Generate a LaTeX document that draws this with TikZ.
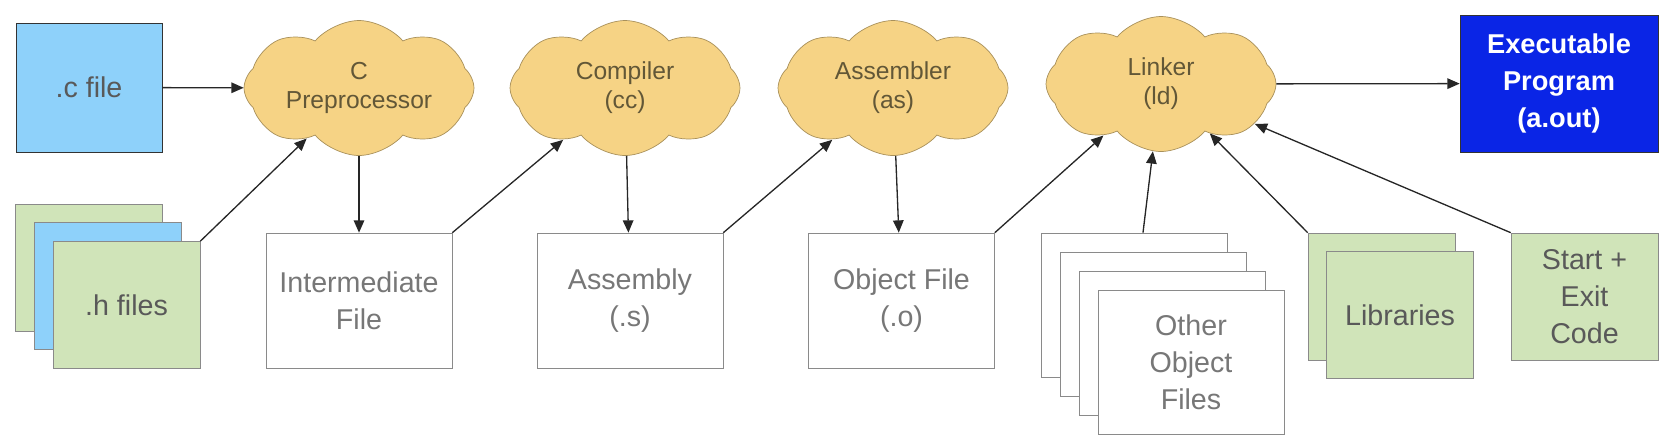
\documentclass[tikz,border=0pt]{standalone}
\usepackage{fontspec}
\setmainfont{Liberation Sans}
\usetikzlibrary{positioning, arrows.meta, shapes.symbols}
\definecolor{srcblue}{HTML}{8ED1FA}
\definecolor{hgreen}{HTML}{D0E4B9}
\definecolor{cloudtan}{HTML}{F6D385}
\definecolor{cloudedge}{HTML}{A8905A}
\definecolor{cloudtxt}{HTML}{625737}
\definecolor{exeblue}{HTML}{0A25E6}
\definecolor{boxgray}{HTML}{8A8A8A}
\definecolor{txtgray}{HTML}{777777}
\tikzset{
  tool/.style  = {cloud, cloud puffs=8, cloud puff arc=100, cloud ignores aspect,
                  draw=cloudedge, fill=cloudtan, text=cloudtxt, align=center,
                  minimum width=4.6cm, minimum height=2.7cm, inner sep=0pt,
                  font=\fontsize{14}{16.5}\selectfont},
  file/.style  = {draw=boxgray, fill=white, text=txtgray, align=center,
                  minimum width=3.72cm, minimum height=2.7cm, inner sep=0pt,
                  font=\fontsize{16.3}{21}\selectfont},
  src/.style   = {draw=black!80, fill=srcblue, text=black!65, align=center,
                  minimum width=2.92cm, minimum height=2.58cm, inner sep=0pt,
                  font=\fontsize{16.3}{21}\selectfont},
  hdr/.style   = {draw=boxgray, fill=hgreen, text=black!65, align=center,
                  minimum width=2.94cm, minimum height=2.54cm, inner sep=0pt,
                  font=\fontsize{16.3}{21}\selectfont},
  ar/.style    = {-{Triangle[length=7pt, width=6pt]}, line width=0.75pt, black!85},
}
\begin{document}
\begin{tikzpicture}[x=0.02cm, y=-0.02cm]
  \useasboundingbox (0,0) rectangle (1676,444);
  % tools
  \node[tool] (cpp)  at (359, 88) {C\\Preprocessor};
  \node[tool] (cc)   at (625, 88) {Compiler\\(cc)};
  \node[tool] (as)   at (893, 88) {Assembler\\(as)};
  \node[tool] (ld)   at (1161, 84) {Linker\\(ld)};
  % sources
  \node[src] (cfile) at (89, 87.5) {.c file};
  \node[hdr] (hback) at (89, 267.5) {};
  \node[hdr, fill=srcblue] (hmid) at (108, 286) {};
  \node[hdr] (hfront) at (126.5, 305) {.h files};
  % intermediate files
  \node[file] (inter) at (359, 300.5) {Intermediate\\File};
  \node[file] (asmf)  at (630, 300.5) {Assembly\\(.s)};
  \node[file] (objf)  at (901.5, 300.5) {Object File\\(.o)};
  % other objects, libraries, startup
  \foreach \i in {1,...,3}
    \node[file, minimum height=2.88cm] (oth\i) at (1115+19*\i, 286+19*\i) {};
  \node[file, minimum height=2.88cm] (oth4) at (1191, 362) {Other\\Object\\Files};
  \node[hdr] (libback)  at (1381.5, 296.5) {};
  \node[hdr] (lib)      at (1400, 315) {Libraries};
  \node[hdr] (start)    at (1584.5, 296.5) {Start +\\Exit\\Code};
  % result
  \node[src, fill=exeblue, text=white, minimum width=3.96cm, minimum height=2.74cm,
        font=\fontsize{15.5}{21}\selectfont\bfseries] (exe) at (1559, 83.5)
        {Executable\\Program\\(a.out)};
  % flow
  \draw[ar] (cfile) -- (cpp);
  \draw[ar] (hfront.north east) -- (cpp);
  \draw[ar] (cpp) -- (inter);
  \draw[ar] (inter.north east) -- (cc);
  \draw[ar] (cc) -- (asmf);
  \draw[ar] (asmf.north east) -- (as);
  \draw[ar] (as) -- (objf);
  \draw[ar] (objf.north east) -- (ld);
  \draw[ar] ([xshift=0.18cm]oth1.north) -- (ld);
  \draw[ar] (libback.north west) -- (ld);
  \draw[ar] (start.north west) -- (ld);
  \draw[ar] (ld) -- (exe);
\end{tikzpicture}
\end{document}
